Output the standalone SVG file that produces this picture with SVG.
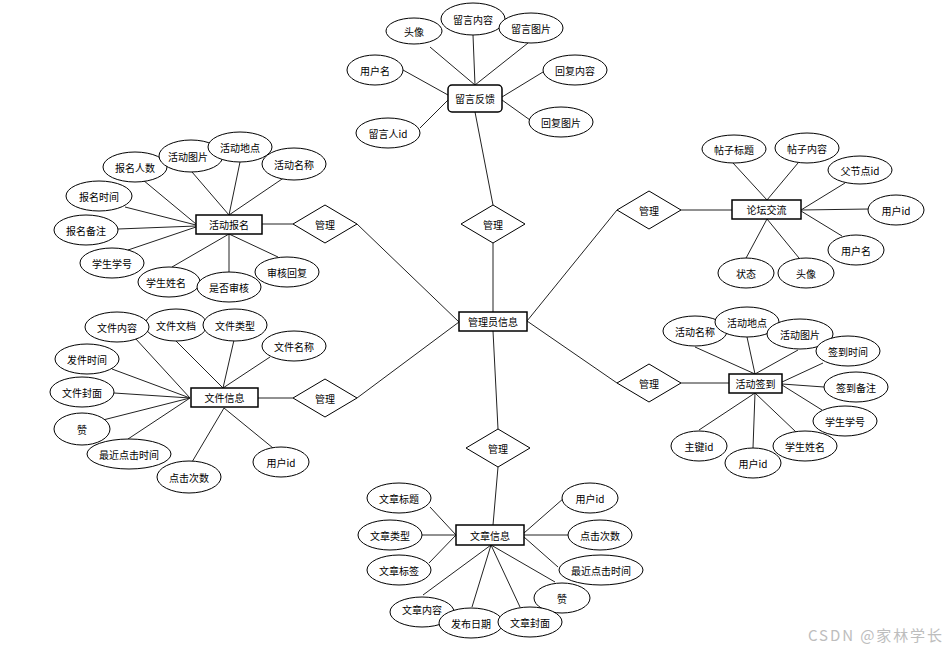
<svg xmlns="http://www.w3.org/2000/svg" width="947" height="651" viewBox="0 0 947 651">
<style>
.e{fill:#fff;stroke:#000;stroke-width:1}
.b{fill:#fff;stroke:#000;stroke-width:1.5}
.d{fill:#fff;stroke:#000;stroke-width:1}
#connectors line{stroke:#222;stroke-width:1}
text{font-family:"Noto Sans CJK SC","Liberation Sans",sans-serif;font-size:10px;fill:#000;text-anchor:middle;dominant-baseline:central}
.wm{font-size:15px;fill:#bdbdbd;text-anchor:start}
</style>
<rect width="947" height="651" fill="#fff"/>
<g id="connectors">
<line x1="493" y1="243" x2="493" y2="312"/>
<line x1="475" y1="112" x2="493" y2="205"/>
<line x1="357" y1="224" x2="459" y2="322"/>
<line x1="357" y1="398" x2="459" y2="322"/>
<line x1="617" y1="210" x2="527" y2="321"/>
<line x1="617" y1="383" x2="527" y2="321"/>
<line x1="493" y1="331" x2="498" y2="429"/>
<line x1="498" y1="467" x2="493" y2="525"/>
<line x1="262" y1="224" x2="293" y2="224"/>
<line x1="258" y1="398" x2="293" y2="398"/>
<line x1="681" y1="210" x2="732" y2="210"/>
<line x1="681" y1="383" x2="729" y2="383"/>
<line x1="430" y1="47" x2="475" y2="85"/>
<line x1="473" y1="35" x2="475" y2="85"/>
<line x1="528" y1="43" x2="475" y2="85"/>
<line x1="403" y1="70" x2="448" y2="95"/>
<line x1="420" y1="128" x2="448" y2="100"/>
<line x1="543" y1="72" x2="502" y2="97"/>
<line x1="530" y1="120" x2="502" y2="100"/>
<line x1="143" y1="180" x2="196" y2="224"/>
<line x1="125" y1="207" x2="196" y2="225"/>
<line x1="118" y1="229" x2="196" y2="226"/>
<line x1="128" y1="250" x2="196" y2="227"/>
<line x1="192" y1="172" x2="229" y2="215"/>
<line x1="240" y1="162" x2="229" y2="215"/>
<line x1="285" y1="177" x2="229" y2="215"/>
<line x1="172" y1="267" x2="229" y2="234"/>
<line x1="229" y1="272" x2="229" y2="234"/>
<line x1="278" y1="257" x2="229" y2="234"/>
<line x1="135" y1="338" x2="190" y2="398"/>
<line x1="175" y1="340" x2="223" y2="388"/>
<line x1="234" y1="340" x2="223" y2="388"/>
<line x1="270" y1="357" x2="223" y2="388"/>
<line x1="112" y1="369" x2="190" y2="398"/>
<line x1="114" y1="393" x2="190" y2="398"/>
<line x1="103" y1="420" x2="190" y2="398"/>
<line x1="128" y1="439" x2="190" y2="398"/>
<line x1="192" y1="462" x2="224" y2="408"/>
<line x1="273" y1="448" x2="224" y2="408"/>
<line x1="733" y1="163" x2="767" y2="200"/>
<line x1="798" y1="163" x2="767" y2="200"/>
<line x1="845" y1="183" x2="801" y2="210"/>
<line x1="869" y1="209" x2="801" y2="210"/>
<line x1="842" y1="236" x2="801" y2="211"/>
<line x1="745" y1="260" x2="767" y2="219"/>
<line x1="799" y1="258" x2="767" y2="219"/>
<line x1="695" y1="347" x2="755" y2="374"/>
<line x1="747" y1="337" x2="755" y2="374"/>
<line x1="798" y1="350" x2="755" y2="374"/>
<line x1="823" y1="363" x2="782" y2="382"/>
<line x1="824" y1="387" x2="782" y2="384"/>
<line x1="822" y1="410" x2="782" y2="385"/>
<line x1="699" y1="430" x2="755" y2="393"/>
<line x1="753" y1="448" x2="755" y2="393"/>
<line x1="796" y1="432" x2="755" y2="393"/>
<line x1="430" y1="507" x2="456" y2="535"/>
<line x1="422" y1="535" x2="456" y2="535"/>
<line x1="429" y1="563" x2="456" y2="535"/>
<line x1="564" y1="498" x2="524" y2="533"/>
<line x1="568" y1="535" x2="524" y2="535"/>
<line x1="558" y1="567" x2="524" y2="537"/>
<line x1="423" y1="595" x2="491" y2="545"/>
<line x1="472" y1="607" x2="491" y2="545"/>
<line x1="520" y1="607" x2="491" y2="545"/>
<line x1="555" y1="582" x2="491" y2="545"/>
</g>

<g id="admin"><rect class="b" x="459" y="312" width="68" height="19"/><text x="493" y="321.5">管理员信息</text></g>

<g id="rel-top"><polygon class="d" points="461,224 493,205 525,224 493,243"/><text x="493" y="224">管理</text></g>
<g id="rel-left-top"><polygon class="d" points="293,224 325,205 357,224 325,243"/><text x="325" y="224">管理</text></g>
<g id="rel-left-bottom"><polygon class="d" points="293,398 325,379 357,398 325,417"/><text x="325" y="398">管理</text></g>
<g id="rel-bottom"><polygon class="d" points="466,448 498,429 530,448 498,467"/><text x="498" y="448">管理</text></g>
<g id="rel-right-top"><polygon class="d" points="617,210 649,191 681,210 649,229"/><text x="649" y="210">管理</text></g>
<g id="rel-right-bottom"><polygon class="d" points="617,383 649,364 681,383 649,402"/><text x="649" y="383">管理</text></g>

<g id="feedback"><rect class="b" x="448" y="85" width="54" height="27" rx="4"/><text x="475" y="98.5">留言反馈</text></g>
<g id="fb-avatar"><ellipse class="e" cx="414" cy="31" rx="28" ry="13"/><text x="414" y="31">头像</text></g>
<g id="fb-content"><ellipse class="e" cx="473" cy="19" rx="32" ry="16"/><text x="473" y="19">留言内容</text></g>
<g id="fb-image"><ellipse class="e" cx="531" cy="28" rx="32" ry="15"/><text x="531" y="28">留言图片</text></g>
<g id="fb-username"><ellipse class="e" cx="375" cy="70" rx="28" ry="15"/><text x="375" y="70">用户名</text></g>
<g id="fb-reply"><ellipse class="e" cx="575" cy="70" rx="32" ry="15"/><text x="575" y="70">回复内容</text></g>
<g id="fb-replyimg"><ellipse class="e" cx="561" cy="122" rx="32" ry="15"/><text x="561" y="122">回复图片</text></g>
<g id="fb-userid"><ellipse class="e" cx="388" cy="133" rx="32" ry="15"/><text x="388" y="133">留言人id</text></g>

<g id="signup"><rect class="b" x="196" y="215" width="66" height="19"/><text x="229" y="224.5">活动报名</text></g>
<g id="su-count"><ellipse class="e" cx="135" cy="167" rx="32" ry="15"/><text x="135" y="167">报名人数</text></g>
<g id="su-img"><ellipse class="e" cx="191" cy="156" rx="32" ry="16"/><text x="188" y="156">活动图片</text></g>
<g id="su-place"><ellipse class="e" cx="240" cy="147" rx="32" ry="15"/><text x="240" y="147">活动地点</text></g>
<g id="su-name"><ellipse class="e" cx="294" cy="164" rx="32" ry="16"/><text x="294" y="164">活动名称</text></g>
<g id="su-time"><ellipse class="e" cx="99" cy="196" rx="33" ry="15"/><text x="99" y="196">报名时间</text></g>
<g id="su-note"><ellipse class="e" cx="86" cy="230" rx="32" ry="15"/><text x="86" y="230">报名备注</text></g>
<g id="su-sno"><ellipse class="e" cx="112" cy="263" rx="32" ry="15"/><text x="112" y="263">学生学号</text></g>
<g id="su-sname"><ellipse class="e" cx="169" cy="282" rx="31" ry="15"/><text x="166" y="282">学生姓名</text></g>
<g id="su-audit"><ellipse class="e" cx="229" cy="287" rx="32" ry="15"/><text x="229" y="287">是否审核</text></g>
<g id="su-reply"><ellipse class="e" cx="287" cy="272" rx="32" ry="15"/><text x="287" y="272">审核回复</text></g>

<g id="file"><rect class="b" x="191" y="388" width="67" height="19"/><text x="224.5" y="397.5">文件信息</text></g>
<g id="fi-doc"><ellipse class="e" cx="176" cy="325" rx="31" ry="16"/><text x="176" y="325">文件文档</text></g>
<g id="fi-content"><ellipse class="e" cx="117" cy="327" rx="32" ry="15"/><text x="117" y="327">文件内容</text></g>
<g id="fi-type"><ellipse class="e" cx="235" cy="325" rx="32" ry="16"/><text x="235" y="325">文件类型</text></g>
<g id="fi-name"><ellipse class="e" cx="294" cy="346" rx="32" ry="15"/><text x="294" y="346">文件名称</text></g>
<g id="fi-time"><ellipse class="e" cx="87" cy="359" rx="32" ry="15"/><text x="87" y="359">发件时间</text></g>
<g id="fi-cover"><ellipse class="e" cx="82" cy="392" rx="32" ry="15"/><text x="82" y="392">文件封面</text></g>
<g id="fi-like"><ellipse class="e" cx="82" cy="429" rx="28" ry="16"/><text x="82" y="429">赞</text></g>
<g id="fi-recent"><ellipse class="e" cx="129" cy="454" rx="42" ry="15"/><text x="129" y="454">最近点击时间</text></g>
<g id="fi-clicks"><ellipse class="e" cx="189" cy="477" rx="32" ry="16"/><text x="189" y="477">点击次数</text></g>
<g id="fi-userid"><ellipse class="e" cx="281" cy="462" rx="28" ry="15"/><text x="281" y="462">用户id</text></g>

<g id="forum"><rect class="b" x="732" y="200" width="69" height="19"/><text x="766.5" y="209.5">论坛交流</text></g>
<g id="fo-title"><ellipse class="e" cx="734" cy="149" rx="32" ry="14"/><text x="734" y="149">帖子标题</text></g>
<g id="fo-content"><ellipse class="e" cx="807" cy="148" rx="32" ry="15"/><text x="807" y="148">帖子内容</text></g>
<g id="fo-parent"><ellipse class="e" cx="860" cy="170" rx="32" ry="14"/><text x="860" y="170">父节点id</text></g>
<g id="fo-userid"><ellipse class="e" cx="896" cy="210" rx="28" ry="15"/><text x="896" y="210">用户id</text></g>
<g id="fo-username"><ellipse class="e" cx="856" cy="250" rx="28" ry="15"/><text x="856" y="250">用户名</text></g>
<g id="fo-status"><ellipse class="e" cx="746" cy="273" rx="28" ry="15"/><text x="746" y="273">状态</text></g>
<g id="fo-avatar"><ellipse class="e" cx="806" cy="273" rx="28" ry="15"/><text x="806" y="273">头像</text></g>

<g id="checkin"><rect class="b" x="729" y="374" width="53" height="19"/><text x="755.5" y="383.5">活动签到</text></g>
<g id="ci-name"><ellipse class="e" cx="695" cy="331" rx="32" ry="15"/><text x="695" y="331">活动名称</text></g>
<g id="ci-place"><ellipse class="e" cx="747" cy="322" rx="32" ry="15"/><text x="747" y="322">活动地点</text></g>
<g id="ci-img"><ellipse class="e" cx="800" cy="334" rx="33" ry="15"/><text x="800" y="334">活动图片</text></g>
<g id="ci-time"><ellipse class="e" cx="848" cy="351" rx="32" ry="15"/><text x="848" y="351">签到时间</text></g>
<g id="ci-note"><ellipse class="e" cx="856" cy="387" rx="32" ry="15"/><text x="856" y="387">签到备注</text></g>
<g id="ci-sno"><ellipse class="e" cx="845" cy="421" rx="32" ry="15"/><text x="845" y="421">学生学号</text></g>
<g id="ci-sname"><ellipse class="e" cx="805" cy="446" rx="32" ry="15"/><text x="805" y="446">学生姓名</text></g>
<g id="ci-userid"><ellipse class="e" cx="753" cy="463" rx="28" ry="15"/><text x="753" y="463">用户id</text></g>
<g id="ci-pk"><ellipse class="e" cx="699" cy="446" rx="28" ry="15"/><text x="699" y="446">主键id</text></g>

<g id="article"><rect class="b" x="456" y="525" width="68" height="20"/><text x="490" y="535">文章信息</text></g>
<g id="ar-title"><ellipse class="e" cx="399" cy="498" rx="32" ry="15"/><text x="399" y="498">文章标题</text></g>
<g id="ar-type"><ellipse class="e" cx="390" cy="535" rx="32" ry="15"/><text x="390" y="535">文章类型</text></g>
<g id="ar-tag"><ellipse class="e" cx="399" cy="570" rx="32" ry="15"/><text x="399" y="570">文章标签</text></g>
<g id="ar-userid"><ellipse class="e" cx="590" cy="498" rx="28" ry="15"/><text x="590" y="498">用户id</text></g>
<g id="ar-clicks"><ellipse class="e" cx="600" cy="535" rx="32" ry="15"/><text x="600" y="535">点击次数</text></g>
<g id="ar-recent"><ellipse class="e" cx="601" cy="570" rx="42" ry="15"/><text x="601" y="570">最近点击时间</text></g>
<g id="ar-like"><ellipse class="e" cx="562" cy="598" rx="28" ry="15"/><text x="562" y="598">赞</text></g>
<g id="ar-content"><ellipse class="e" cx="422" cy="612" rx="32" ry="15"/><text x="422" y="609">文章内容</text></g>
<g id="ar-date"><ellipse class="e" cx="471" cy="623" rx="32" ry="15"/><text x="471" y="623">发布日期</text></g>
<g id="ar-cover"><ellipse class="e" cx="530" cy="622" rx="32" ry="15"/><text x="530" y="622">文章封面</text></g>

<text class="wm" x="808" y="634" textLength="134" lengthAdjust="spacing">CSDN @家林学长</text>
</svg>
